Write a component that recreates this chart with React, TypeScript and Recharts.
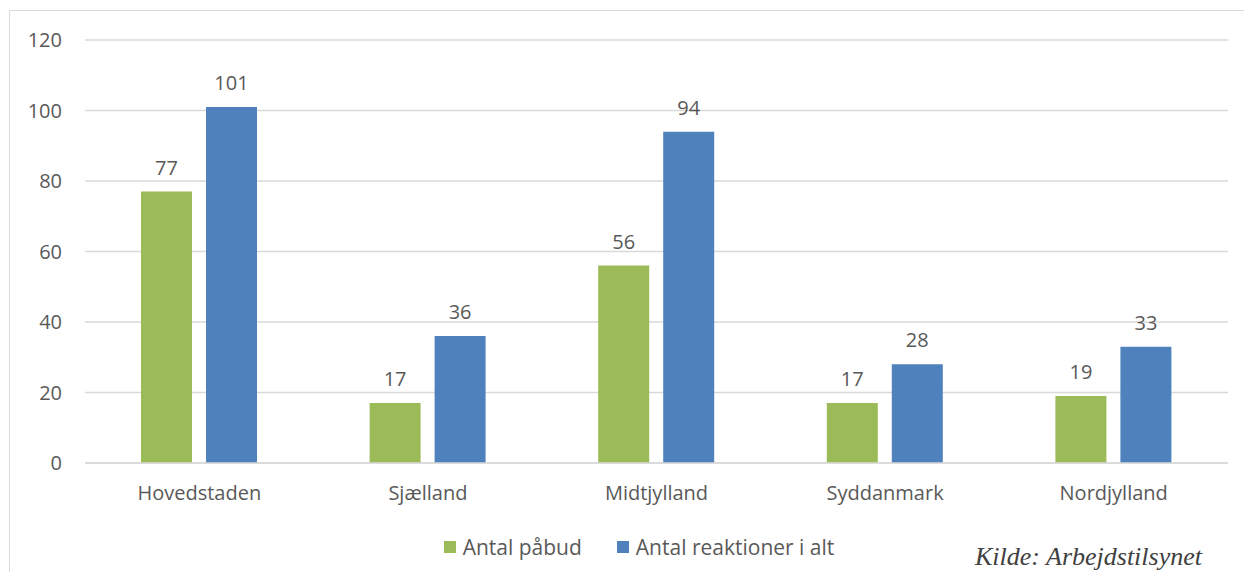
import React from 'react';
import { BarChart, Bar, XAxis, YAxis, CartesianGrid, Legend, LabelList } from 'recharts';

const regions = ['Hovedstaden', 'Sjælland', 'Midtjylland', 'Syddanmark', 'Nordjylland'];
const paabud = [77, 17, 56, 17, 19];
const reaktioner = [101, 36, 94, 28, 33];
const yTicks = [0, 20, 40, 60, 80, 100, 120];

const data = regions.map((region, i) => ({
  region,
  paabud: paabud[i],
  reaktioner: reaktioner[i],
}));

const FONT = '"Open Sans", "Noto Sans", sans-serif';
const TEXT = '#595959';
const GRID = '#d9d9d9';
const GREEN = '#9bbb59';
const BLUE = '#4f81bd';

const LegendContent = () => (
  <div style={{ display: 'flex', justifyContent: 'center', fontFamily: FONT, fontSize: 21, color: TEXT, paddingLeft: 26 }}>
    <div style={{ display: 'flex', alignItems: 'center', marginRight: 35 }}>
      <span style={{ width: 12, height: 12, background: GREEN, display: 'inline-block', marginRight: 7 }} />
      Antal påbud
    </div>
    <div style={{ display: 'flex', alignItems: 'center' }}>
      <span style={{ width: 12, height: 12, background: BLUE, display: 'inline-block', marginRight: 7 }} />
      Antal reaktioner i alt
    </div>
  </div>
);

export default function App() {
  return (
    <div style={{ position: 'relative', width: 1252, height: 580, margin: -8, background: '#fff', overflow: 'hidden' }}>
      <div
        style={{
          position: 'absolute',
          left: 9,
          top: 10,
          width: 1300,
          height: 640,
          border: `1px solid ${GRID}`,
        }}
      />
      <div style={{ position: 'absolute', left: 0, top: 0 }}>
        <BarChart
          width={1252}
          height={580}
          data={data}
          margin={{ top: 40, right: 24, bottom: 59, left: 25 }}
          barGap={14}
        >
          <CartesianGrid vertical={false} stroke={GRID} strokeWidth={1.5} />
          <XAxis
            dataKey="region"
            axisLine={{ stroke: GRID, strokeWidth: 1.5 }}
            tickLine={false}
            tickSize={0}
            tickMargin={23}
            tick={{ fill: TEXT, fontSize: 20, fontFamily: FONT }}
          />
          <YAxis
            width={60}
            domain={[0, 120]}
            ticks={yTicks}
            axisLine={false}
            tickLine={false}
            tickSize={0}
            tickMargin={23}
            tick={{ fill: TEXT, fontSize: 20, fontFamily: FONT }}
          />
          <Legend
            content={<LegendContent />}
            wrapperStyle={{ position: 'absolute', top: 533, left: 0, width: 1252 }}
          />
          <Bar dataKey="paabud" name="Antal påbud" fill={GREEN} barSize={51} isAnimationActive={false}>
            <LabelList dataKey="paabud" position="top" offset={17} fill={TEXT} fontSize={20} fontFamily={FONT} />
          </Bar>
          <Bar dataKey="reaktioner" name="Antal reaktioner i alt" fill={BLUE} barSize={51} isAnimationActive={false}>
            <LabelList dataKey="reaktioner" position="top" offset={17} fill={TEXT} fontSize={20} fontFamily={FONT} />
          </Bar>
        </BarChart>
      </div>
      <div
        style={{
          position: 'absolute',
          left: 975,
          top: 542,
          fontFamily: '"Liberation Serif", "Times New Roman", serif',
          fontStyle: 'italic',
          fontSize: 26,
          color: '#404040',
        }}
      >
        Kilde: Arbejdstilsynet
      </div>
    </div>
  );
}
